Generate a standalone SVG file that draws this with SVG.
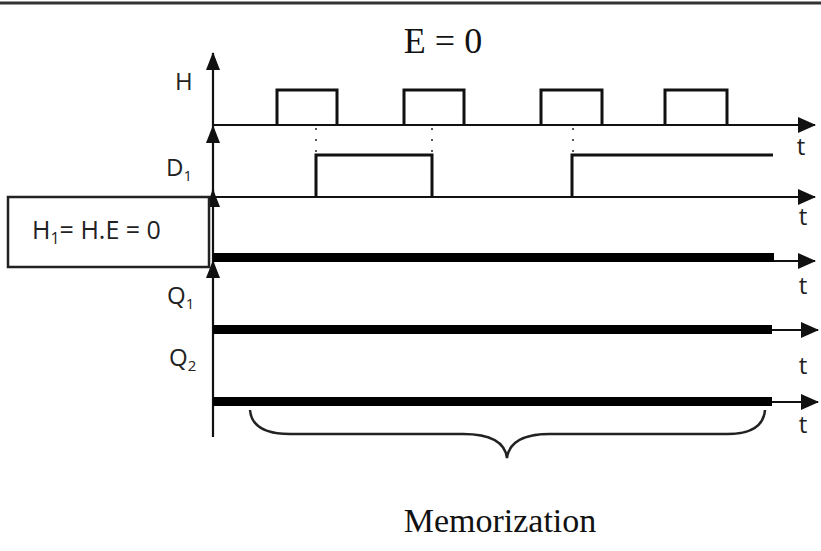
<svg xmlns="http://www.w3.org/2000/svg" width="821" height="551" viewBox="0 0 821 551">
<defs>
<marker id="ah" viewBox="0 0 18 16" refX="17" refY="8" markerWidth="18" markerHeight="16" markerUnits="userSpaceOnUse" orient="auto">
<path d="M0,0 L18,8 L0,16 Z" fill="#111"/>
</marker>
<marker id="av" viewBox="0 0 18 14" refX="17" refY="7" markerWidth="18" markerHeight="14" markerUnits="userSpaceOnUse" orient="auto">
<path d="M0,0 L18,7 L0,14 Z" fill="#111"/>
</marker>
</defs>
<style>
.ax{stroke:#111;stroke-width:2.2;fill:none}
.sig{stroke:#111;stroke-width:3;fill:none}
.bar{fill:#000}
.dot{stroke:#222;stroke-width:1.5;stroke-dasharray:2,9;fill:none}
.lbl{font-family:"Open Sans","Liberation Sans",sans-serif;font-size:24px;fill:#222}
.sub{font-size:15px}
.ser{font-family:"Liberation Serif","DejaVu Serif",serif;fill:#111}
</style>
<rect width="821" height="551" fill="#fff"/>
<line x1="0" y1="3" x2="821" y2="3" stroke="#333" stroke-width="3"/>

<g id="title"><text class="ser" x="443" y="53" font-size="36" text-anchor="middle">E = 0</text></g>

<g id="connectors">
<line class="ax" x1="213" y1="126" x2="213" y2="53" marker-end="url(#av)"/>
<line class="ax" x1="213" y1="196" x2="213" y2="126" marker-end="url(#av)"/>
<line class="ax" x1="213" y1="261" x2="213" y2="190" marker-end="url(#av)"/>
<line class="ax" x1="213" y1="437" x2="213" y2="261" marker-end="url(#av)"/>
<line class="ax" x1="213" y1="125" x2="815" y2="125" marker-end="url(#ah)"/>
<line class="ax" x1="213" y1="197" x2="815" y2="197" marker-end="url(#ah)"/>
<line class="ax" x1="213" y1="261" x2="815" y2="261" marker-end="url(#ah)"/>
<line class="ax" x1="213" y1="330" x2="818" y2="330" marker-end="url(#ah)"/>
<line class="ax" x1="213" y1="402" x2="818" y2="402" marker-end="url(#ah)"/>
<line class="dot" x1="316" y1="128" x2="316" y2="154"/>
<line class="dot" x1="432" y1="128" x2="432" y2="154"/>
<line class="dot" x1="573" y1="128" x2="573" y2="154"/>
</g>

<g id="H">
<text class="lbl" x="175" y="90">H</text>
<path class="sig" d="M277,125 V90 H337 V125"/>
<path class="sig" d="M404,125 V90 H464 V125"/>
<path class="sig" d="M541,125 V90 H602 V125"/>
<path class="sig" d="M665,125 V90 H727 V125"/>
<text class="lbl" x="801" y="155" text-anchor="middle">t</text>
</g>

<g id="D1">
<text class="lbl" x="166" y="176">D<tspan class="sub" dy="5">1</tspan></text>
<path class="sig" d="M316,197 V155 H432 V197"/>
<path class="sig" d="M572,197 V155 H773"/>
<text class="lbl" x="803" y="225" text-anchor="middle">t</text>
</g>

<g id="H1">
<rect x="8" y="197" width="201" height="70" fill="#fff" stroke="#222" stroke-width="2.5"/>
<text class="lbl" x="32" y="239" style="font-size:25px">H<tspan style="font-size:16px" dy="5">1</tspan><tspan dy="-5">= H.E = 0</tspan></text>
<rect class="bar" x="213" y="253" width="561" height="9"/>
<text class="lbl" x="803" y="294" text-anchor="middle">t</text>
</g>

<g id="Q1">
<text class="lbl" x="167" y="304">Q<tspan class="sub" dy="5">1</tspan></text>
<rect class="bar" x="213" y="325" width="559" height="9"/>
<text class="lbl" x="803" y="374" text-anchor="middle">t</text>
</g>

<g id="Q2">
<text class="lbl" x="169" y="366">Q<tspan class="sub" dy="5">2</tspan></text>
<rect class="bar" x="213" y="397" width="559" height="9"/>
<text class="lbl" x="803" y="433" text-anchor="middle">t</text>
</g>

<g id="brace">
<path d="M250,410 Q252,434 290,434 L463,434 C490,434 505,442 507,458 C509,442 524,434 550,434 L727,434 Q763,434 765,410" fill="none" stroke="#222" stroke-width="2.5"/>
</g>

<g id="caption"><text class="ser" x="500" y="532" font-size="34" text-anchor="middle">Memorization</text></g>
</svg>
